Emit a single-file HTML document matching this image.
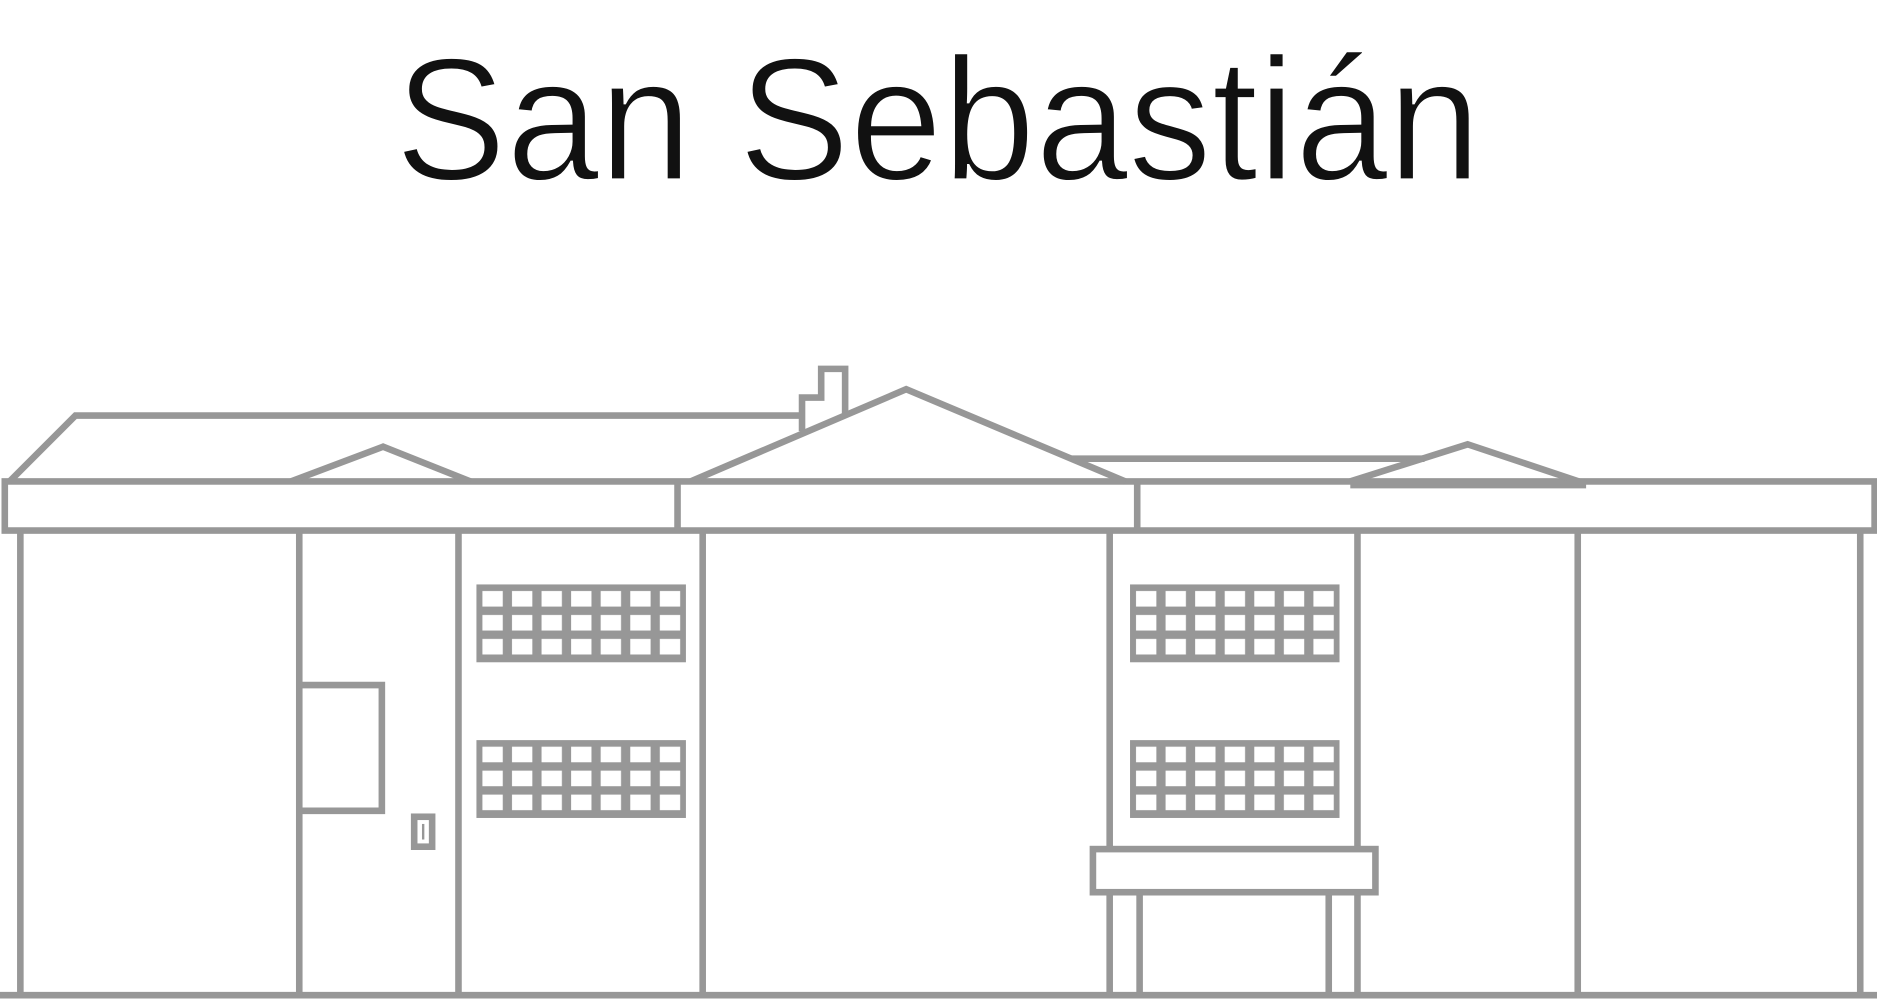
<!DOCTYPE html>
<html><head><meta charset="utf-8"><style>
html,body{margin:0;padding:0;background:#fff;width:1877px;height:1000px;overflow:hidden}
svg{display:block}
</style></head><body>
<svg width="1877" height="1000" viewBox="0 0 1568 835" preserveAspectRatio="none" xmlns="http://www.w3.org/2000/svg">
<defs>
<pattern id="pA" patternUnits="userSpaceOnUse" x="398" y="488" width="24.7" height="20"><rect width="24.7" height="20" fill="#979797"/><rect x="5" y="5.5" width="17" height="13" fill="#fff"/></pattern>
<pattern id="pB" patternUnits="userSpaceOnUse" x="398" y="618" width="24.7" height="20"><rect width="24.7" height="20" fill="#979797"/><rect x="5" y="5.5" width="17" height="13" fill="#fff"/></pattern>
<pattern id="pC" patternUnits="userSpaceOnUse" x="944" y="488" width="24.7" height="20"><rect width="24.7" height="20" fill="#979797"/><rect x="5" y="5.5" width="17" height="13" fill="#fff"/></pattern>
<pattern id="pD" patternUnits="userSpaceOnUse" x="944" y="618" width="24.7" height="20"><rect width="24.7" height="20" fill="#979797"/><rect x="5" y="5.5" width="17" height="13" fill="#fff"/></pattern>
</defs>
<text x="330" y="150" font-family="Liberation Sans, sans-serif" font-size="146" fill="#111" stroke="#fff" stroke-width="2.2" textLength="907" lengthAdjust="spacingAndGlyphs">San Sebastián</text>
<g fill="none" stroke="#979797" stroke-width="5.5">
<line x1="0" y1="831" x2="1568" y2="831"/>
<rect x="4" y="402" width="1562" height="41"/>
<line x1="566" y1="402" x2="566" y2="443"/>
<line x1="950" y1="402" x2="950" y2="443"/>
<path d="M17 443V831M250 443V831M383 443V831M587 443V831M927 443V709M1134 443V709M1318 443V831M1554 443V831"/>
<path d="M927 745V831M952 745V831M1110 745V831M1134 745V831"/>
<polyline points="8,402 63,347 670,347"/>
<polyline points="670,360 670,332 686,332 686,308 706,308 706,347"/>
<polyline points="577,402 757,325 940,402"/>
<line x1="895" y1="383" x2="1190" y2="383"/>
<polyline points="1128,402 1226,371 1325,404"/>
<line x1="1128" y1="405" x2="1325" y2="405"/>
<polyline points="243,402 320,373 393,402"/>
<polyline points="250,572 319,572 319,677 250,677"/>
<rect x="346" y="682" width="15" height="25"/>
<line x1="353.5" y1="688" x2="353.5" y2="701" stroke-width="2"/>
<rect x="913" y="709" width="236" height="36"/>
</g>
<rect x="398" y="488" width="175" height="65" fill="url(#pA)"/>
<rect x="398" y="618" width="175" height="65" fill="url(#pB)"/>
<rect x="944" y="488" width="175" height="65" fill="url(#pC)"/>
<rect x="944" y="618" width="175" height="65" fill="url(#pD)"/>
</svg>
</body></html>
